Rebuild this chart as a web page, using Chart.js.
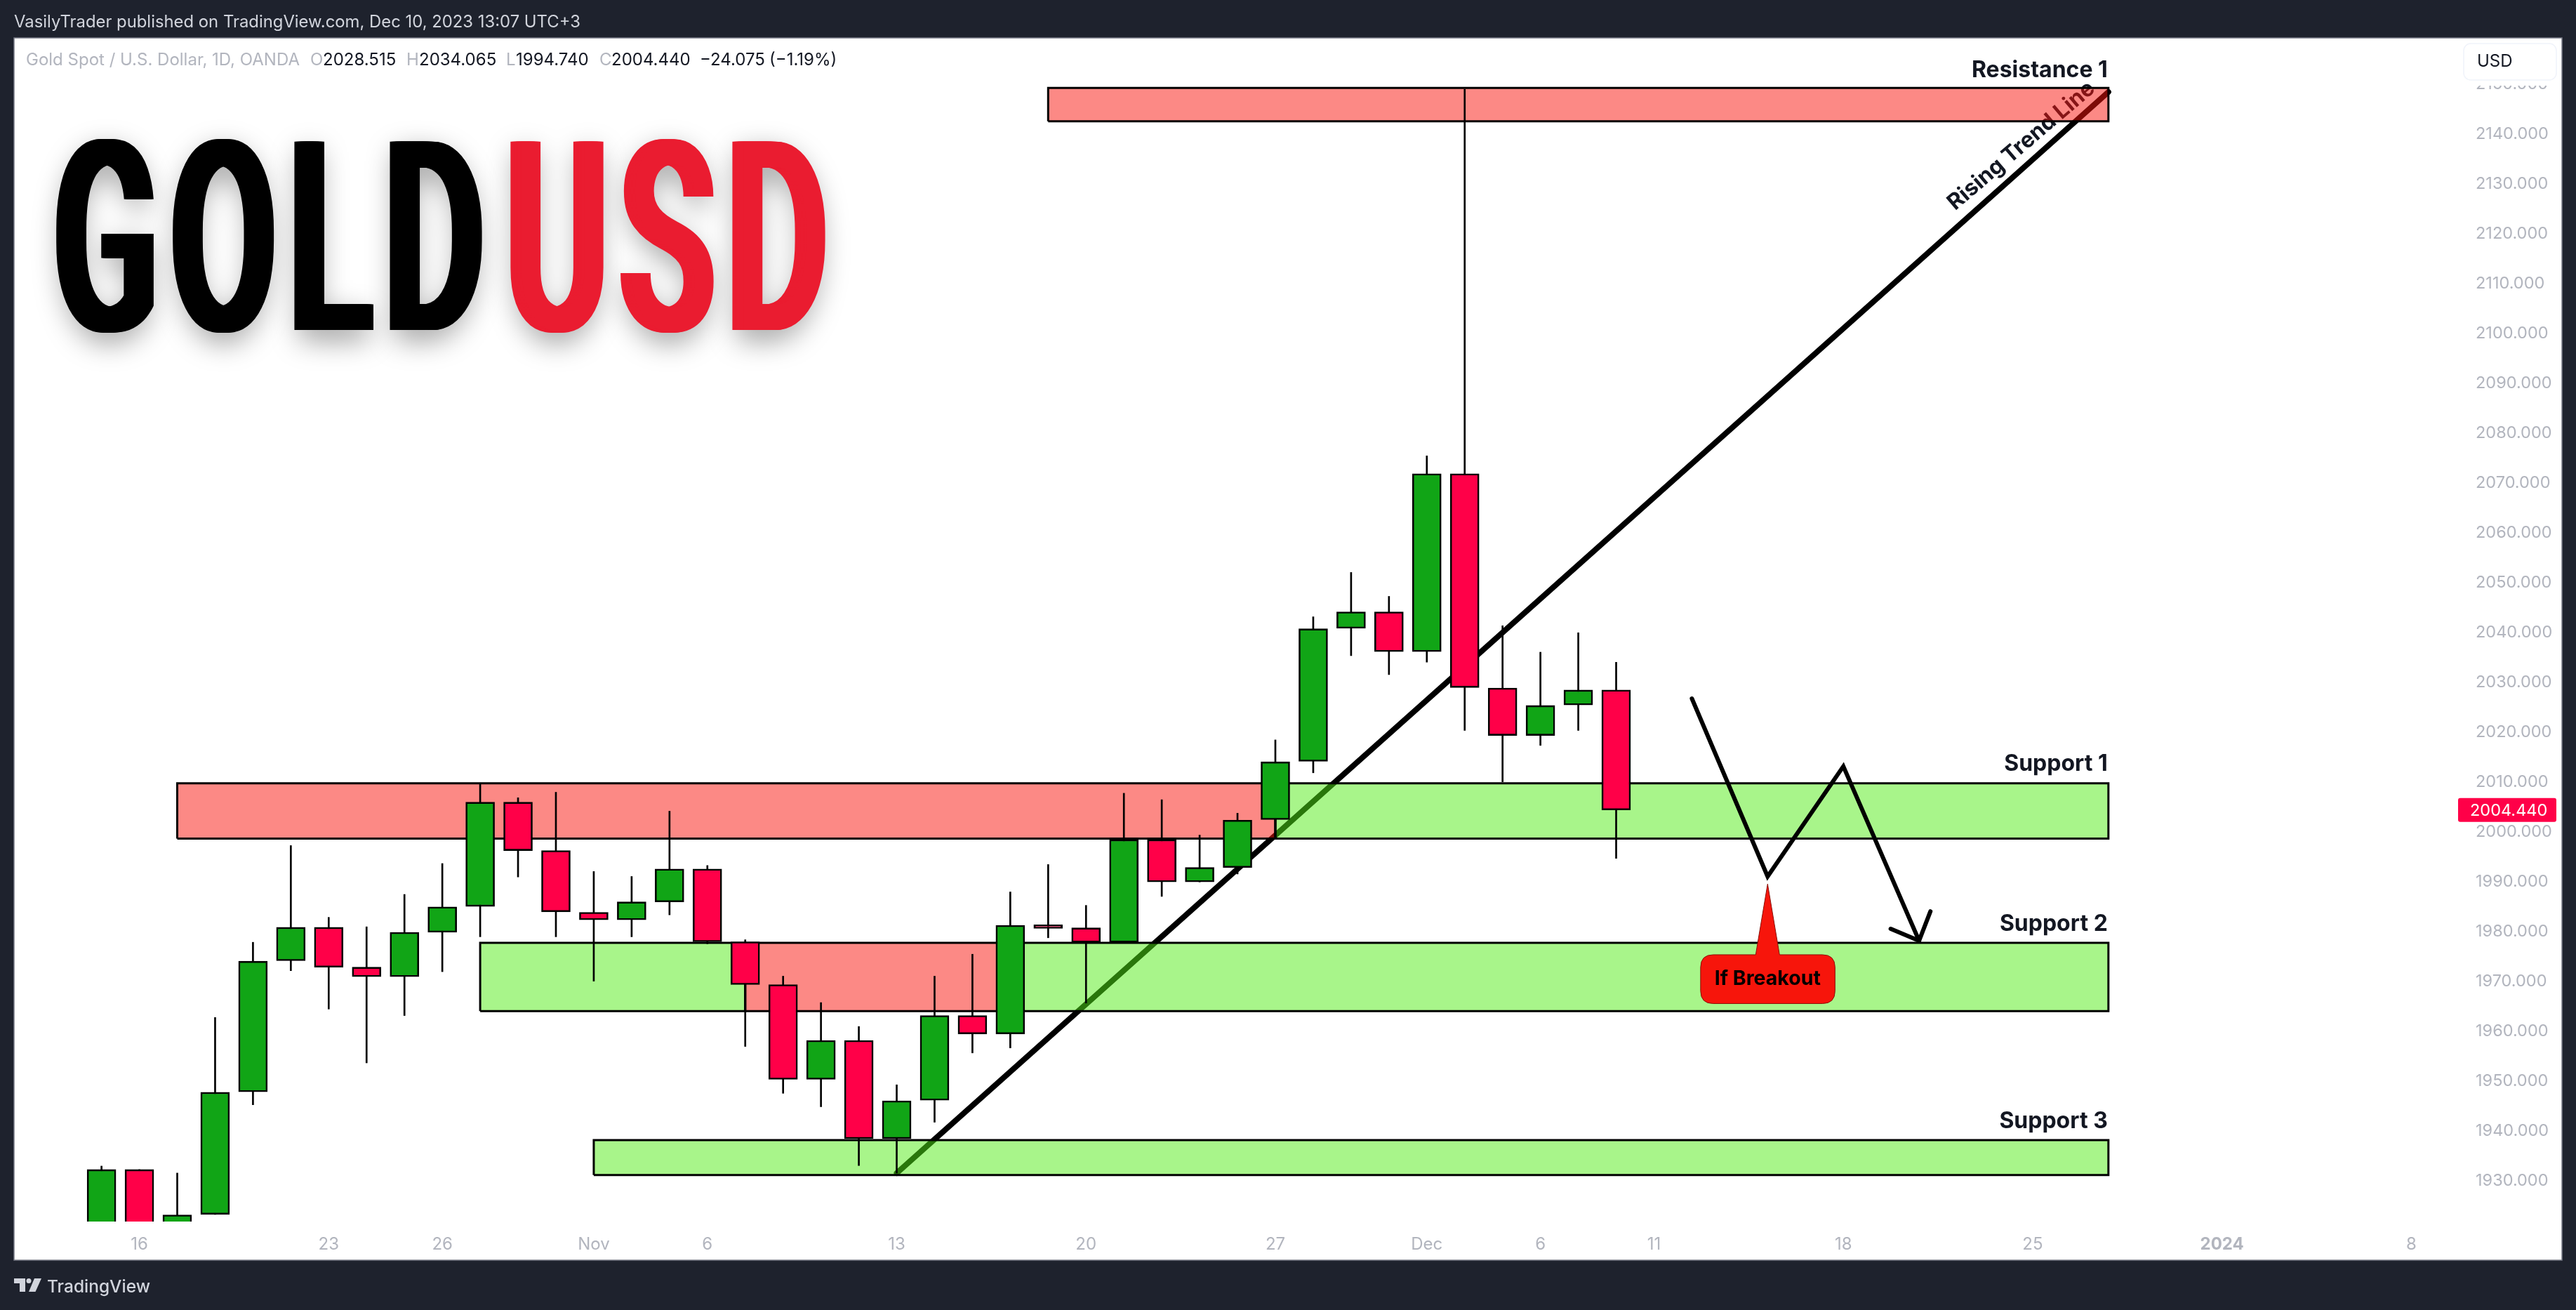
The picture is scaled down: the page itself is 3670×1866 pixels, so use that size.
<!DOCTYPE html>
<html><head><meta charset="utf-8">
<style>html,body{margin:0;padding:0;background:#1e222d;overflow:hidden}canvas{display:block}</style>
<script src="https://cdn.jsdelivr.net/npm/chart.js@4"></script>
</head><body><canvas id="c" width="3670" height="1866"></canvas>
<script>
// session dates for each candle, Oct 13 to Dec 8 2023
const dates = ["Oct 13","Oct 16","Oct 17","Oct 18","Oct 19","Oct 20","Oct 23","Oct 24","Oct 25","Oct 26","Oct 27","Oct 30","Oct 31","Nov 1","Nov 2","Nov 3","Nov 6","Nov 7","Nov 8","Nov 9","Nov 10","Nov 13","Nov 14","Nov 15","Nov 16","Nov 17","Nov 20","Nov 21","Nov 22","Nov 23","Nov 24","Nov 27","Nov 28","Nov 29","Nov 30","Dec 1","Dec 4","Dec 5","Dec 6","Dec 7","Dec 8"];
const opens  = [1915,1932.3,1920,1923.3,1947.9,1974.2,1980.9,1972.9,1971.0,1979.9,1985.1,2006.0,1996.3,1983.9,1982.4,1986.0,1992.6,1978.0,1969.4,1950.4,1958.2,1938.5,1946.2,1963.2,1959.5,1981.4,1980.8,1977.9,1998.5,1990.0,1992.9,2002.5,2014.2,2040.9,2044.2,2036.2,2071.9,2028.9,2019.4,2025.5,2028.515];
const highs  = [1933.0,1932.3,1931.6,1962.8,1977.9,1997.3,1982.9,1981.0,1987.5,1993.7,2009.7,2006.9,2008.0,1992.1,1991.1,2004.2,1993.3,1978.4,1971.1,1965.8,1961.0,1949.3,1971.1,1975.5,1988.0,1993.5,1985.3,2007.8,2006.5,1999.4,2003.8,2018.5,2043.2,2052.1,2047.3,2075.5,2149.0,2041.4,2036.1,2040.0,2034.065];
const lows   = [1910,1915,1918,1923.3,1945.3,1972.2,1964.5,1953.7,1963.2,1972.0,1979.0,1991.0,1979.0,1970.1,1979.0,1983.4,1977.6,1957.0,1947.6,1944.9,1933.1,1931.6,1941.8,1955.7,1956.7,1978.8,1965.7,1977.9,1987.1,1990.0,1991.6,1998.7,2011.9,2035.4,2031.6,2034.1,2020.4,2010.1,2017.4,2020.4,1994.74];
const closes = [1932.3,1920,1923.2,1947.8,1974.1,1980.9,1972.9,1971.0,1979.9,1985.0,2006.0,1996.3,1984.0,1982.4,1986.0,1992.6,1978.0,1969.4,1950.4,1958.2,1938.5,1946.1,1963.2,1959.5,1981.3,1980.7,1977.9,1998.5,1990.0,1992.9,2002.4,2014.1,2040.8,2044.2,2036.2,2071.9,2029.0,2019.4,2025.4,2028.5,2004.44];

// time axis
const tickIndexes = [1,6,9,13,16,21,26,31,35,38,41,46,51,56,61];
const tickLabels  = ["16","23","26","Nov","6","13","20","27","Dec","6","11","18","25","2024","8"];

// zones: [fromBar, toBar, top, bottom]
const greenZones = [[31,53,2009.8,1998.7],[10,17,1977.8,1964.1],[24,53,1977.8,1964.1],[13,53,1938.2,1931.2]];
const redZones   = [[25,53,2149.3,2142.6],[2,31,2009.8,1998.7],[17,24,1977.8,1964.1]];

// drawn lines: bar index, price
const trendBars = [21,53];
const trendVals = [1931.6,2148.5];
const pathBars = [42,44,46,48];
const pathVals = [2026.8,1991.1,2013.2,1978.2];
const headBars = [47.25,48,48.3];
const headVals = [1980.6,1978.2,1984.1];

const zoneLabels = [["Resistance 1",2151.5],["Support 1",2012.3],["Support 2",1980.2],["Support 3",1940.6]];
const lastPrice = 2004.44;

const GREEN='#11a516', RED='#ff0048', INK='#131722', GREY='#b2b5be';
const FONT='Inter, "Noto Sans", sans-serif';
const bars = dates.map((_,i)=>i);

function zoneSets(list,color){
  const out=[];
  list.forEach(z=>{
    out.push({type:'line',order:90,data:[{x:z[0],y:z[2]},{x:z[1],y:z[2]}],borderWidth:0,borderColor:'transparent',
      backgroundColor:color,fill:{value:z[3]},pointRadius:0,tension:0});
    out.push({type:'line',order:85,data:[{x:z[0],y:z[3]},{x:z[0],y:z[2]},{x:z[1],y:z[2]},{x:z[1],y:z[3]},{x:z[0],y:z[3]}],
      borderWidth:3,borderColor:'#000',fill:false,pointRadius:0,tension:0,borderJoinStyle:'miter'});
  });
  return out;
}

const overlay={id:'overlay',
  beforeDraw(ch){
    const c=ch.ctx;
    c.save();
    c.fillStyle='#1e222d';c.fillRect(0,0,3670,1866);
    c.fillStyle='#fff';c.fillRect(20,54,3630,1741);
    c.strokeStyle='#787b86';c.lineWidth=1.5;
    c.beginPath();c.moveTo(20,54);c.lineTo(3650,54);c.lineTo(3650,1795);c.lineTo(20,1795);c.closePath();c.stroke();
    c.restore();
  },
  beforeDatasetsDraw(ch){
    const c=ch.ctx,x=ch.scales.x,y=ch.scales.y;
    c.save();
    c.translate(x.getPixelForValue(50.7),y.getPixelForValue(2137.7));
    c.rotate(-40.5*Math.PI/180);
    c.font='700 31.5px '+FONT;c.fillStyle=INK;c.textAlign='center';c.textBaseline='middle';
    c.fillText('Rising Trend Line',0,0);
    c.restore();
  },
  afterDatasetsDraw(ch){
    const c=ch.ctx,x=ch.scales.x,y=ch.scales.y;
    c.save();
    // zone labels
    c.font='700 32px '+FONT;c.fillStyle=INK;c.textAlign='right';c.textBaseline='alphabetic';
    zoneLabels.forEach(l=>c.fillText(l[0],x.getPixelForValue(53)-1,y.getPixelForValue(l[1])));
    // callout
    const tipX=x.getPixelForValue(44),tipY=y.getPixelForValue(1989.6);
    const L=x.getPixelForValue(42.23),R=x.getPixelForValue(45.78),T=y.getPixelForValue(1975.4),B=y.getPixelForValue(1965.6),r=18;
    c.beginPath();
    c.moveTo(L+r,T);c.lineTo(tipX-17,T);c.lineTo(tipX,tipY);c.lineTo(tipX+17,T);c.lineTo(R-r,T);
    c.quadraticCurveTo(R,T,R,T+r);c.lineTo(R,B-r);c.quadraticCurveTo(R,B,R-r,B);c.lineTo(L+r,B);
    c.quadraticCurveTo(L,B,L,B-r);c.lineTo(L,T+r);c.quadraticCurveTo(L,T,L+r,T);c.closePath();
    c.fillStyle='#f7150b';c.fill();c.strokeStyle='#8a1008';c.lineWidth=1;c.stroke();
    c.font='700 28.5px '+FONT;c.fillStyle='#000';c.textAlign='center';c.textBaseline='middle';
    c.fillText('If Breakout',tipX,(T+B)/2);
    // title words
    fitWord(c,'GOLD','#000',79,688,193,476);
    fitWord(c,'USD','#ea1c30',724,1177,193,476);
    // top band
    c.textBaseline='middle';c.textAlign='left';
    c.font='400 23.85px '+FONT;c.fillStyle='#d1d4dc';
    c.fillText('VasilyTrader published on TradingView.com, Dec 10, 2023 13:07 UTC+3',20,32);
    // legend row
    c.font='400 24px '+FONT;
    [['Gold Spot / U.S. Dollar, 1D, OANDA',37,GREY],['O',442,GREY],['2028.515',460,INK],['H',579,GREY],['2034.065',597,INK],
     ['L',721,GREY],['1994.740',735,INK],['C',854,GREY],['2004.440',871,INK],['\u221224.075',997,INK],['(\u22121.19%)',1096,INK]]
     .forEach(t=>{c.fillStyle=t[2];c.fillText(t[0],t[1],86);});
    // USD badge with its clear margin over the price scale
    c.fillStyle='#fff';c.fillRect(3505,55,144,67);
    c.beginPath();c.roundRect(3510,62,132,52,10);c.fillStyle='#fff';c.fill();c.strokeStyle='#f0f3fa';c.lineWidth=1.5;c.stroke();
    c.font='400 24px '+FONT;c.fillStyle=INK;c.fillText('USD',3529,88);
    // last price badge
    const py=y.getPixelForValue(lastPrice);
    c.beginPath();c.roundRect(3502,py-17,140,34,3);c.fillStyle=RED;c.fill();
    c.font='400 23.5px '+FONT;c.fillStyle='#fff';c.fillText(lastPrice.toFixed(3),3519,py+1);
    // footer logo
    c.fillStyle='#d1d4dc';
    c.beginPath();c.moveTo(20,1821);c.lineTo(36,1821);c.lineTo(36,1840);c.lineTo(28,1840);c.lineTo(28,1828);c.lineTo(20,1828);c.closePath();c.fill();
    c.beginPath();c.arc(41,1824.5,3.5,0,7);c.fill();
    c.beginPath();c.moveTo(49,1821);c.lineTo(59,1821);c.lineTo(50.5,1840);c.lineTo(41,1840);c.closePath();c.fill();
    c.font='500 24.5px '+FONT;c.textBaseline='alphabetic';c.fillText('TradingView',67,1841);
    c.restore();
  }
};
function fitWord(c,word,color,x0,x1,y0,y1){
  const ext=8;
  c.save();
  c.font='500 400px Roboto, sans-serif';c.textAlign='left';c.textBaseline='alphabetic';
  c.letterSpacing='35px';
  const m=c.measureText(word);
  const w=m.actualBoundingBoxLeft+m.actualBoundingBoxRight,h=m.actualBoundingBoxAscent+m.actualBoundingBoxDescent;
  const sx=(x1-x0-2*ext)/w,sy=(y1-y0)/h;
  const bx=x0+ext+m.actualBoundingBoxLeft*sx,by=y1-m.actualBoundingBoxDescent*sy;
  c.fillStyle=color;
  c.save();
  c.translate(bx,by);c.scale(sx,sy);
  c.shadowColor='rgba(0,0,0,0.4)';c.shadowBlur=40;c.shadowOffsetX=0;c.shadowOffsetY=14;
  c.fillText(word,0,0);
  c.restore();
  for(let d=-ext;d<=ext;d+=2){
    c.save();c.translate(bx+d,by);c.scale(sx,sy);c.fillText(word,0,0);c.restore();
  }
  c.restore();
}

new Chart(document.getElementById('c'),{
  type:'bar',
  data:{datasets:[
    {type:'line',order:100,data:trendBars.map((b,i)=>({x:b,y:trendVals[i]})),borderColor:'#000',borderWidth:8,pointRadius:0,tension:0,fill:false,borderCapStyle:'round'},
    ...zoneSets(greenZones,'rgba(81,235,21,0.5)'),
    ...zoneSets(redZones,'rgba(250,20,12,0.5)'),
    {order:50,grouped:false,barThickness:2,backgroundColor:'#000',borderWidth:0,data:bars.map(i=>({x:i,y:[lows[i],highs[i]]}))},
    {order:40,grouped:false,barThickness:41,borderSkipped:false,borderWidth:2.6,borderColor:'#000',
      backgroundColor:bars.map(i=>closes[i]>=opens[i]?GREEN:RED),data:bars.map(i=>({x:i,y:[opens[i],closes[i]]}))},
    {type:'line',order:10,data:pathBars.map((b,i)=>({x:b,y:pathVals[i]})),borderColor:'#000',borderWidth:6,pointRadius:0,tension:0,fill:false,borderCapStyle:'round',borderJoinStyle:'miter'},
    {type:'line',order:10,data:headBars.map((b,i)=>({x:b,y:headVals[i]})),borderColor:'#000',borderWidth:6,pointRadius:0,tension:0,fill:false,borderCapStyle:'round',borderJoinStyle:'miter'}
  ]},
  options:{
    responsive:false,animation:false,devicePixelRatio:1,
    layout:{padding:{left:20,top:54,right:0,bottom:0}},
    plugins:{legend:{display:false},tooltip:{enabled:false},title:{display:false}},
    scales:{
      x:{type:'linear',offset:false,min:-2.31,max:62.29,grid:{display:false},border:{display:false},
        afterFit(s){s.height=126;},
        afterBuildTicks(s){s.ticks=tickIndexes.map(v=>({value:v}));},
        ticks:{autoSkip:false,maxRotation:0,includeBounds:false,padding:10,color:GREY,
          font:ctx=>({family:FONT,size:24,weight:tickLabels[tickIndexes.indexOf(ctx.tick&&ctx.tick.value)]==='2024'?'700':'400'}),
          callback:v=>tickLabels[tickIndexes.indexOf(v)]}},
      y:{type:'linear',position:'right',min:1921.87,max:2159.34,grid:{display:false},border:{display:false},
        afterFit(s){s.width=165;},
        ticks:{stepSize:10,includeBounds:false,padding:14,color:GREY,font:{family:FONT,size:23.5},callback:v=>v.toFixed(3)}}
    }
  },
  plugins:[overlay]
});
</script></body></html>
